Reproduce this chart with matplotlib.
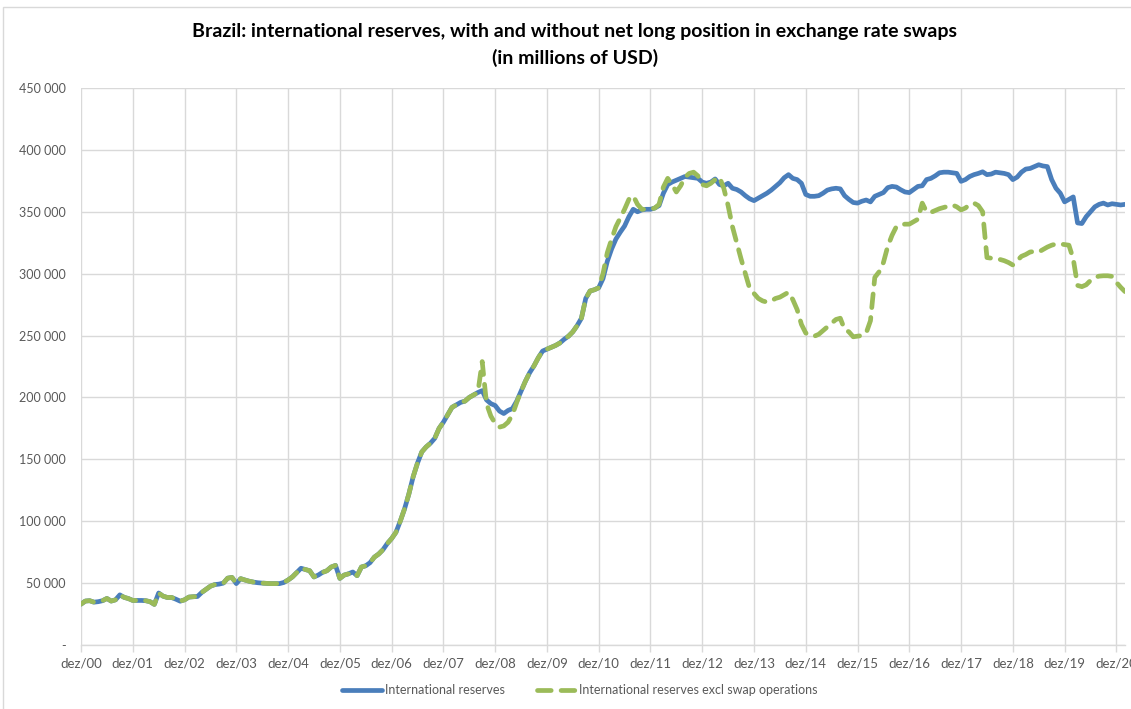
import numpy as np
import matplotlib
matplotlib.use('Agg')
import matplotlib.pyplot as plt
from matplotlib.patches import Rectangle

plt.rcParams.update({'font.family': ['Lato', 'DejaVu Sans']})

# monthly values, thousands of USD millions, dez/00 onwards
reserves = [
    33.0, 35.5, 35.8, 34.6, 35.0, 35.8, 37.6, 35.5, 36.5, 40.5, 38.5, 37.5, 36.0,
    36.0, 36.0, 35.8, 35.0, 32.8, 42.0, 39.5, 38.4, 38.4, 37.0, 35.4, 36.5,
    38.7, 39.0, 39.2, 42.5, 45.0, 47.5, 48.8, 49.2, 50.0, 54.0, 54.6, 49.6,
    53.6, 52.5, 51.5, 50.8, 50.3, 50.0, 49.8, 49.6, 49.6, 49.6, 50.5, 52.5,
    55.0, 58.5, 62.0, 61.0, 60.0, 55.0, 56.5, 58.7, 60.0, 63.0, 64.3, 53.8,
    56.5, 57.5, 59.0, 56.0, 63.0, 64.0, 66.5, 71.0, 73.5, 77.0, 82.0, 86.0,
    91, 100, 110, 122, 136, 147, 156, 160, 163, 167, 175, 180,
    186, 192, 194, 196, 197, 200, 202, 204, 205.5, 198, 195, 193.5,
    189, 187, 189.5, 191, 197, 205, 213, 220, 225.5, 232, 237.5, 239,
    240.5, 242, 244, 247, 249.5, 253, 258, 264, 280, 286, 287, 288.6,
    296, 310, 320, 328, 333.5, 338.5, 346, 352, 350, 351.5, 352, 352,
    353, 355, 365, 372, 374, 375.5, 377, 378.5, 378, 377.5, 377, 374,
    373, 374, 376.5, 372, 371, 373, 369, 368, 366, 363, 360.5, 359,
    361, 363, 365, 367.5, 370.5, 373.5, 377.5, 380, 377, 376, 373, 364,
    362.5, 362.5, 363, 365, 367.5, 368.5, 369, 368.5, 363, 360, 357.5, 357,
    358.5, 359.5, 358, 362.5, 364, 365.5, 369.5, 370.5, 370, 367.8, 366, 365.5,
    368, 370.5, 371, 376, 377, 379, 381.5, 382, 382, 381.5, 381, 374.6,
    376, 378.5, 380, 381, 382.3, 380, 380.5, 382, 381.5, 381, 380, 376,
    378, 382, 384.5, 385, 386.5, 388, 387, 386.5, 376, 369, 365, 358,
    360, 362, 341, 340.5, 346, 350, 354, 356, 357, 355.5, 356.5, 356, 355.5, 356,
]

# excl. swaps: identical to reserves until sep/08
excl_swaps = reserves[:93] + [
    229, 195, 185, 179, 176, 177, 180, 186, 196, 205,
    213, 220, 225.5, 232, 237.5, 239, 240.5, 242, 244, 247, 249.5, 253, 258, 264,
    280, 286, 287, 288.6,
    300, 317, 328, 338, 345, 352, 360, 363, 356, 352, 352, 352,
    353, 356, 370, 377, 372, 366, 371, 378, 381, 382, 379, 372,
    371, 373, 376, 378, 369, 355, 338, 325, 312, 300, 288, 284,
    280, 278, 277, 278, 280, 281, 283, 285, 279, 271, 259, 252,
    250, 249.5, 251, 254, 257, 260, 263, 264, 255, 253, 249, 249.5,
    250, 252, 262, 297, 301.5, 309, 322, 331, 338, 339.5, 340, 340,
    342, 344, 357, 350, 349.5, 351, 352.5, 353.5, 354.5, 355.5, 354, 351.5,
    353, 356, 357, 355, 350, 313, 312.5, 312.5, 311.5, 310.5, 309, 307,
    310.5, 314, 315.5, 317.5, 318, 317.5, 319.5, 321.5, 323, 324, 324, 323.5,
    323, 312, 290.5, 289.5, 291, 294.5, 297, 298, 298.3, 298.3, 297.8, 293, 289, 285.5,
]

years = ['00', '01', '02', '03', '04', '05', '06', '07', '08', '09', '10',
         '11', '12', '13', '14', '15', '16', '17', '18', '19', '20']
tick_labels = ['dez/' + y for y in years]

res = np.array(reserves) * 1000
exc = np.array(excl_swaps) * 1000
x1 = np.arange(len(res))
x2 = np.arange(len(exc))

fig = plt.figure(figsize=(11.31, 7.09), dpi=100)
ax = fig.add_axes([81/1131, 1 - 645/709, (1125 - 81)/1131, (645 - 88)/709])

ax.plot(x1, res, color='#4a7ebb', lw=3.4, solid_capstyle='round', solid_joinstyle='round',
        label='International reserves', zorder=3)
ax.plot(x2, exc, color='#9bbb59', lw=3.4, ls=(0, (2.9, 2.1)), dash_capstyle='round',
        label='International reserves excl swap operations', zorder=4)

ax.set_xlim(0, len(res) - 1)
ax.set_ylim(0, 450000)
ax.set_xticks(np.arange(len(years)) * 12)
ax.set_xticklabels(tick_labels)
yt = np.arange(0, 450001, 50000)
ax.set_yticks(yt)
ax.set_yticklabels(['-'] + ['{:,}'.format(v).replace(',', ' ') for v in yt[1:]])

ax.grid(True, color='#d9d9d9', lw=1.0)
ax.set_axisbelow(True)
for s in ['top', 'right', 'left']:
    ax.spines[s].set_visible(False)
ax.spines['bottom'].set_color('#d9d9d9')
ax.spines['bottom'].set_linewidth(1.0)
ax.tick_params(axis='x', colors='#d9d9d9', length=5, width=1, labelcolor='#595959',
               labelsize=9.5, pad=4)
ax.tick_params(axis='y', length=0, labelcolor='#595959', labelsize=9, pad=11)

fig.text(575/1131, 1 - 32/709, 'Brazil: international reserves, with and without net long position in exchange rate swaps',
         ha='center', va='center', fontsize=14, fontweight='bold', color='black')
fig.text(575/1131, 1 - 58/709, '(in millions of USD)', ha='center', va='center',
         fontsize=14, fontweight='bold', color='black')

leg = fig.legend(loc='center', bbox_to_anchor=(580/1131, 1 - 690/709), ncol=2, frameon=False,
                 fontsize=9, handlelength=3.2, columnspacing=2.6, handletextpad=0.2)
for t in leg.get_texts():
    t.set_color('#595959')

fig.patches.append(Rectangle((3/1131, -0.01), 1.0, 1 - 7/709 + 0.01, transform=fig.transFigure,
                             fill=False, edgecolor='#d9d9d9', lw=1.0))

fig.savefig('out.png', dpi=100)
